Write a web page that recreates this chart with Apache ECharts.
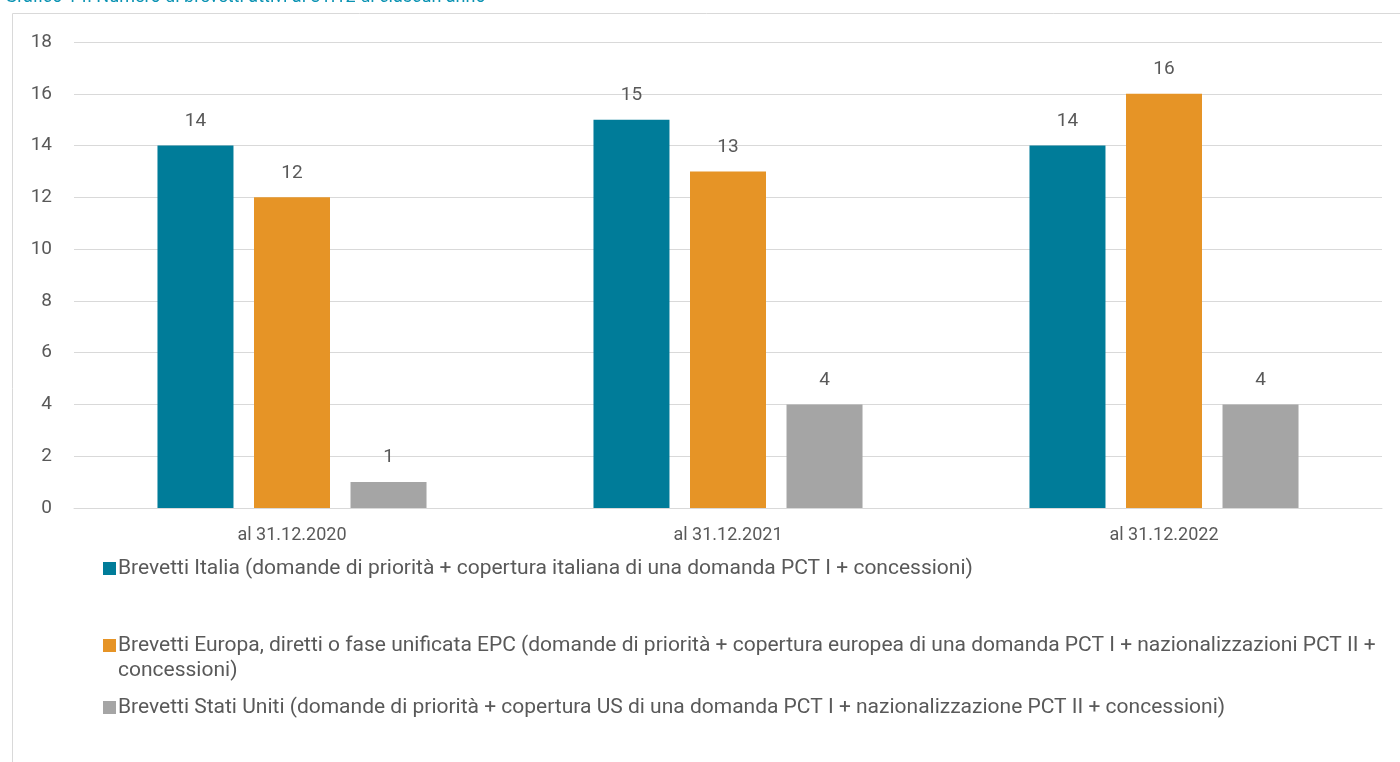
<!DOCTYPE html>
<html><head><meta charset="utf-8">
<script src="https://cdn.jsdelivr.net/npm/echarts@6/dist/echarts.min.js"></script>
<style>html,body{margin:0;padding:0;background:#fff}#c{width:1400px;height:762px}</style>
</head><body><div id="c"></div>
<script>
const categories = ['al 31.12.2020', 'al 31.12.2021', 'al 31.12.2022'];
const seriesNames = [
  'Brevetti Italia (domande di priorità + copertura italiana di una domanda PCT I + concessioni)',
  'Brevetti Europa, diretti o fase unificata EPC (domande di priorità + copertura europea di una domanda PCT I + nazionalizzazioni PCT II + concessioni)',
  'Brevetti Stati Uniti (domande di priorità + copertura US di una domanda PCT I + nazionalizzazione PCT II + concessioni)'
];
const italia = [14, 15, 14];
const europa = [12, 13, 16];
const usa = [1, 4, 4];
const colors = ['#007c99', '#e69426', '#a5a5a5'];
const titleText = 'Grafico 14. Numero di brevetti attivi al 31.12 di ciascun anno';

const font = 'Roboto';
const chart = echarts.init(document.getElementById('c'));
const mk = (name, data, i) => ({
  name, type: 'bar', data, barWidth: 76, barGap: '27%',
  itemStyle: { color: colors[i] },
  label: { show: true, position: 'top', distance: 15, color: '#595959', fontSize: 19, fontFamily: font }
});
const legendTops = [551, 603, 690];
chart.setOption({
  animation: false,
  title: { text: titleText, left: 0, top: -17, textStyle: { color: '#0b93b3', fontSize: 18, fontWeight: 'normal', fontFamily: font } },
  graphic: [{ type: 'rect', shape: { x: 12.5, y: 13.5, width: 1400, height: 760 }, style: { fill: 'none', stroke: '#d9d9d9', lineWidth: 1 }, silent: true, z: -1 }],
  grid: { left: 74, right: 18, top: 42, bottom: 254, containLabel: false },
  xAxis: {
    type: 'category', data: categories,
    axisLine: { lineStyle: { color: '#d9d9d9', width: 1 } },
    axisTick: { show: false },
    axisLabel: { color: '#595959', fontSize: 18, fontFamily: font, margin: 18 }
  },
  yAxis: {
    type: 'value', min: 0, max: 18, interval: 2,
    axisLine: { show: false }, axisTick: { show: false },
    splitLine: { lineStyle: { color: '#d9d9d9', width: 1 } },
    axisLabel: { color: '#595959', fontSize: 19, fontFamily: font, margin: 22 }
  },
  legend: seriesNames.map((n, i) => ({
    data: [n], left: 98, top: legendTops[i], orient: 'vertical',
    icon: 'rect', itemWidth: 13, itemHeight: 13, itemGap: 0,
    formatter: i === 1 ? (s => ' \n' + s.replace(' + concessioni)', ' +\nconcessioni)')) : undefined,
    textStyle: { color: '#595959', fontSize: 21, fontFamily: font, lineHeight: 25, padding: [0, 0, 0, -3] }
  })),
  series: [mk(seriesNames[0], italia, 0), mk(seriesNames[1], europa, 1), mk(seriesNames[2], usa, 2)]
});
</script></body></html>
